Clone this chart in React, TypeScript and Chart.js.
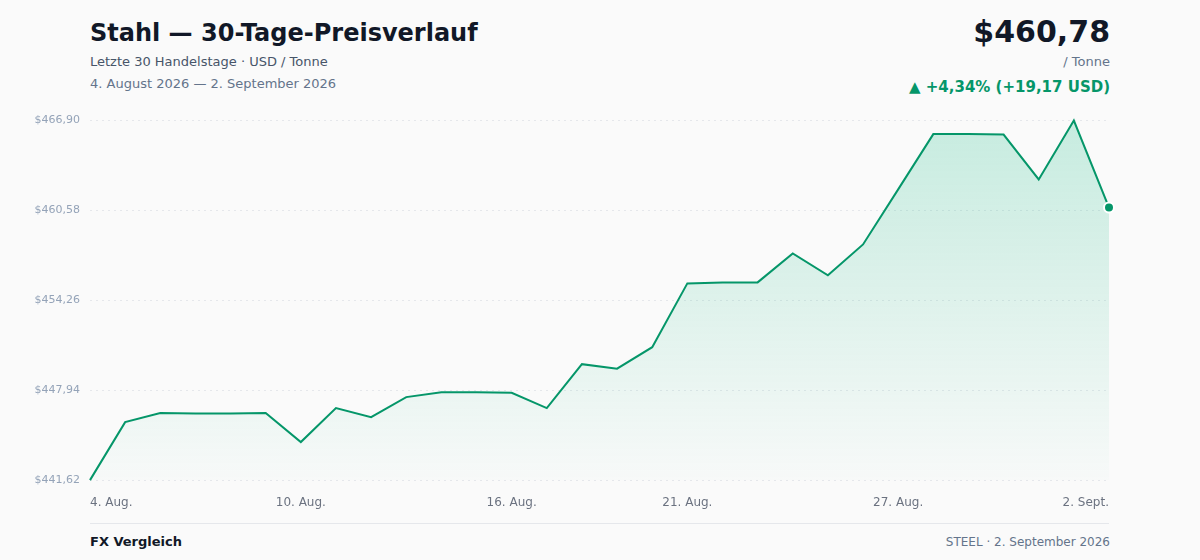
import React, { useEffect, useRef } from 'react';
import { Chart, registerables } from 'chart.js';

Chart.register(...registerables);

const days = [
  '4. Aug.', '5. Aug.', '6. Aug.', '7. Aug.', '8. Aug.', '9. Aug.', '10. Aug.',
  '11. Aug.', '12. Aug.', '13. Aug.', '14. Aug.', '15. Aug.', '16. Aug.', '17. Aug.',
  '18. Aug.', '19. Aug.', '20. Aug.', '21. Aug.', '22. Aug.', '23. Aug.', '24. Aug.',
  '25. Aug.', '26. Aug.', '27. Aug.', '28. Aug.', '29. Aug.', '30. Aug.', '31. Aug.',
  '1. Sept.', '2. Sept.',
];

const prices = [
  441.61, 445.69, 446.33, 446.29, 446.29, 446.33, 444.29, 446.68, 446.04, 447.45,
  447.80, 447.80, 447.76, 446.68, 449.77, 449.45, 450.96, 455.45, 455.52, 455.52,
  457.56, 456.02, 458.19, 462.06, 465.95, 465.95, 465.92, 462.76, 466.90, 460.78,
];

const shownDays = ['4. Aug.', '10. Aug.', '16. Aug.', '21. Aug.', '27. Aug.', '2. Sept.'];

const yTicks = [441.62, 447.94, 454.26, 460.58, 466.9];

const GREEN = '#059669';
const FONT = '"DejaVu Sans", sans-serif';

const fmt = (v: number) => '$' + v.toFixed(2).replace('.', ',');

const PriceChart: React.FC = () => {
  const canvasRef = useRef<HTMLCanvasElement | null>(null);
  const chartRef = useRef<Chart | null>(null);

  useEffect(() => {
    if (!canvasRef.current) return;
    const ctx = canvasRef.current.getContext('2d');
    if (!ctx) return;

    if (chartRef.current) chartRef.current.destroy();

    const last = prices.length - 1;

    chartRef.current = new Chart(ctx, {
      type: 'line',
      data: {
        labels: days,
        datasets: [
          {
            data: prices,
            borderColor: GREEN,
            borderWidth: 2,
            tension: 0,
            fill: 'start',
            clip: false as any,
            backgroundColor: (c: any) => {
              const area = c.chart.chartArea;
              if (!area) return 'rgba(16,185,129,0.15)';
              const g = c.chart.ctx.createLinearGradient(0, area.top, 0, area.bottom);
              g.addColorStop(0, 'rgba(16,185,129,0.22)');
              g.addColorStop(1, 'rgba(16,185,129,0.01)');
              return g;
            },
            pointRadius: (c: any) => (c.dataIndex === last ? 5 : 0),
            pointHoverRadius: 0,
            pointBackgroundColor: GREEN,
            pointBorderColor: '#ffffff',
            pointBorderWidth: 2,
          },
        ],
      },
      options: {
        animation: false,
        responsive: false,
        layout: { padding: { top: 10, right: 91, left: 0, bottom: 0 } },
        plugins: { legend: { display: false }, tooltip: { enabled: false } },
        scales: {
          x: {
            grid: { display: false, drawTicks: false },
            border: { display: false },
            afterFit: (s: any) => {
              s.height = 32;
            },
            ticks: {
              autoSkip: false,
              maxRotation: 0,
              align: 'inner',
              padding: 16,
              color: '#6b7280',
              font: { family: FONT, size: 12 },
              callback: (_v: any, i: number) => (shownDays.includes(days[i]) ? days[i] : ''),
            },
          },
          y: {
            min: yTicks[0],
            max: yTicks[yTicks.length - 1],
            afterBuildTicks: (s: any) => {
              s.ticks = yTicks.map((v) => ({ value: v }));
            },
            afterFit: (s: any) => {
              s.width = 90;
            },
            grid: { color: '#e5e7eb', drawTicks: false, lineWidth: 1 },
            border: { display: false, dash: [2, 4] },
            ticks: {
              padding: 10,
              color: '#94a3b8',
              font: { family: FONT, size: 11 },
              callback: (v: any) => fmt(Number(v)),
            },
          },
        },
      },
    });

    return () => {
      if (chartRef.current) {
        chartRef.current.destroy();
        chartRef.current = null;
      }
    };
  }, []);

  return <canvas ref={canvasRef} width={1200} height={408} style={{ display: 'block' }} />;
};

const text = (extra: React.CSSProperties): React.CSSProperties => ({
  position: 'absolute',
  margin: 0,
  whiteSpace: 'nowrap',
  fontFamily: FONT,
  ...extra,
});

const App: React.FC = () => {
  return (
    <div
      style={{
        position: 'fixed',
        left: 0,
        top: 0,
        width: 1200,
        height: 560,
        background: '#fafafa',
        fontFamily: FONT,
        overflow: 'hidden',
      }}
    >
      <div style={text({ left: 90, top: 19, fontSize: 24, lineHeight: '28px', fontWeight: 700, color: '#111827' })}>
        Stahl — 30-Tage-Preisverlauf
      </div>
      <div style={text({ left: 90, top: 54, fontSize: 13, lineHeight: '16px', color: '#475569' })}>
        Letzte 30 Handelstage · USD / Tonne
      </div>
      <div style={text({ left: 90, top: 76, fontSize: 13, lineHeight: '16px', color: '#64748b' })}>
        4. August 2026 — 2. September 2026
      </div>

      <div style={text({ right: 90, top: 14, fontSize: 30, lineHeight: '36px', fontWeight: 700, color: '#111827' })}>
        {fmt(prices[prices.length - 1])}
      </div>
      <div style={text({ right: 90, top: 54, fontSize: 13, lineHeight: '16px', color: '#64748b' })}>/ Tonne</div>
      <div style={text({ right: 90, top: 78, fontSize: 15, lineHeight: '18px', fontWeight: 700, color: GREEN })}>
        ▲ +4,34% (+19,17 USD)
      </div>

      <div style={{ position: 'absolute', left: 0, top: 104 }}>
        <PriceChart />
      </div>

      <div style={{ position: 'absolute', left: 90, top: 523, width: 1019, height: 1, background: '#e5e7eb' }} />
      <div style={text({ left: 90, top: 534, fontSize: 13, lineHeight: '16px', fontWeight: 700, color: '#111827' })}>
        FX Vergleich
      </div>
      <div style={text({ right: 90, top: 534, fontSize: 12, lineHeight: '16px', color: '#64748b' })}>
        STEEL · 2. September 2026
      </div>
    </div>
  );
};

export default App;
